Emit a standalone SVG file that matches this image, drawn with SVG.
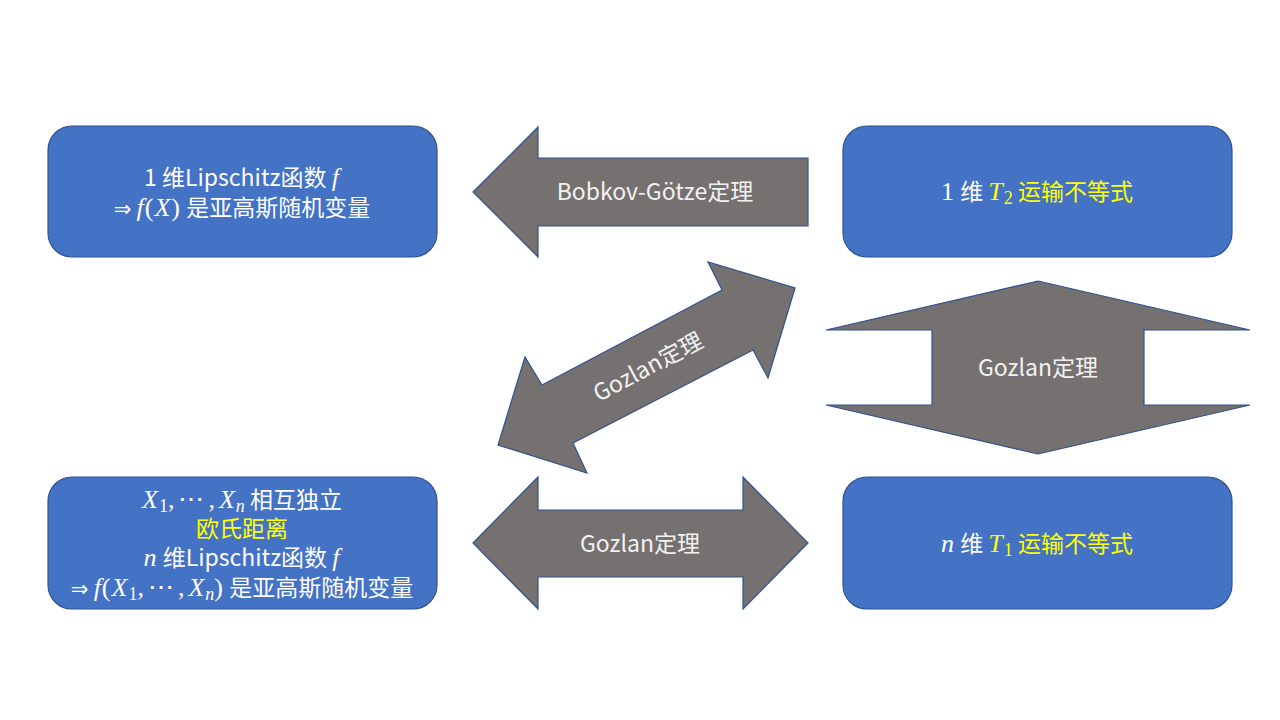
<svg xmlns="http://www.w3.org/2000/svg" width="1280" height="720" viewBox="0 0 1280 720">
<style>
.box{fill:#4472C4;stroke:#2F528F;stroke-width:1.2}
.arr{fill:#767171;stroke:#2F528F;stroke-width:1.2;stroke-linejoin:miter}
.t{font-family:"Noto Sans CJK SC","Noto Sans",sans-serif;font-size:23px;fill:#FFFFFF;text-anchor:middle}
.al{font-family:"Noto Sans CJK SC","Noto Sans",sans-serif;font-size:23px;fill:#F2F2F2;text-anchor:middle}
.m{font-family:"Liberation Serif","DejaVu Serif",serif;font-style:italic;font-size:26px;letter-spacing:1px}
.u{font-family:"Liberation Serif","DejaVu Serif",serif;font-style:normal;font-size:26px;letter-spacing:1px}
.c{font-family:"Liberation Serif","DejaVu Serif",serif;font-style:normal;font-size:26px;letter-spacing:4px}
.s{font-family:"Liberation Serif","DejaVu Serif",serif;font-size:18px;font-style:normal}
.si{font-family:"Liberation Serif","DejaVu Serif",serif;font-size:18px;font-style:italic}
.y{fill:#FFFF00}
.sym{font-family:"DejaVu Sans",sans-serif;font-style:normal;font-size:21px}
</style>
<rect width="1280" height="720" fill="#FFFFFF"/>
<g id="connectors">
<g id="arrow-bobkov">
<polygon class="arr" points="473,192 538,127 538,158 808,158 808,226 538,226 538,257"/>
<text class="al" x="655" y="200">Bobkov-Götze定理</text>
</g>
<g id="arrow-gozlan-diag">
<polygon class="arr" points="795,288 768,378 753,350 573,443 587,473 498,445 525,357 542,385 722,290 708,262"/>
<text class="al" x="648" y="375" transform="rotate(-27.9 648 367)">Gozlan定理</text>
</g>
<g id="arrow-gozlan-vert">
<polygon class="arr" points="1038,281 1250,330 1144,330 1144,405 1250,405 1038,454 826,405 932,405 932,330 826,330"/>
<text class="al" x="1038" y="376">Gozlan定理</text>
</g>
<g id="arrow-gozlan-horiz">
<polygon class="arr" points="473,543 538,477 538,510 743,510 743,477 808,543 743,609 743,577 538,577 538,609"/>
<text class="al" x="640" y="552">Gozlan定理</text>
</g>
</g>
<g id="node-1d-lipschitz">
<rect class="box" x="48" y="126" width="389" height="131" rx="24" ry="24"/>
<text class="t" x="242" y="186">1 维Lipschitz函数 <tspan class="m">f</tspan></text>
<text class="t" x="242" y="216"><tspan class="sym">⇒</tspan> <tspan class="m">f</tspan><tspan class="u">(</tspan><tspan class="m">X</tspan><tspan class="u">)</tspan> 是亚高斯随机变量</text>
</g>
<g id="node-1d-T2">
<rect class="box" x="843" y="126" width="389" height="131" rx="24" ry="24"/>
<text class="t" x="1037" y="200"><tspan class="u">1</tspan> 维 <tspan class="m y">T</tspan><tspan class="s y" dy="4">2</tspan><tspan class="y" dy="-4"> 运输不等式</tspan></text>
</g>
<g id="node-nd-lipschitz">
<rect class="box" x="48" y="477" width="389" height="132" rx="24" ry="24"/>
<text class="t" x="242" y="508"><tspan class="m">X</tspan><tspan class="s" dy="4">1</tspan><tspan class="c" dy="-4">,⋯,</tspan><tspan class="m">X</tspan><tspan class="si" dy="4">n</tspan><tspan dy="-4"> 相互独立</tspan></text>
<text class="t y" x="242" y="537">欧氏距离</text>
<text class="t" x="242" y="566"><tspan class="m">n</tspan> 维Lipschitz函数 <tspan class="m">f</tspan></text>
<text class="t" x="242" y="596"><tspan class="sym">⇒</tspan> <tspan class="m">f</tspan><tspan class="u">(</tspan><tspan class="m">X</tspan><tspan class="s" dy="4">1</tspan><tspan class="c" dy="-4">,⋯,</tspan><tspan class="m">X</tspan><tspan class="si" dy="4">n</tspan><tspan class="u" dy="-4">)</tspan> 是亚高斯随机变量</text>
</g>
<g id="node-nd-T1">
<rect class="box" x="843" y="477" width="389" height="132" rx="24" ry="24"/>
<text class="t" x="1037" y="552"><tspan class="m">n</tspan> 维 <tspan class="m y">T</tspan><tspan class="s y" dy="4">1</tspan><tspan class="y" dy="-4"> 运输不等式</tspan></text>
</g>
</svg>
